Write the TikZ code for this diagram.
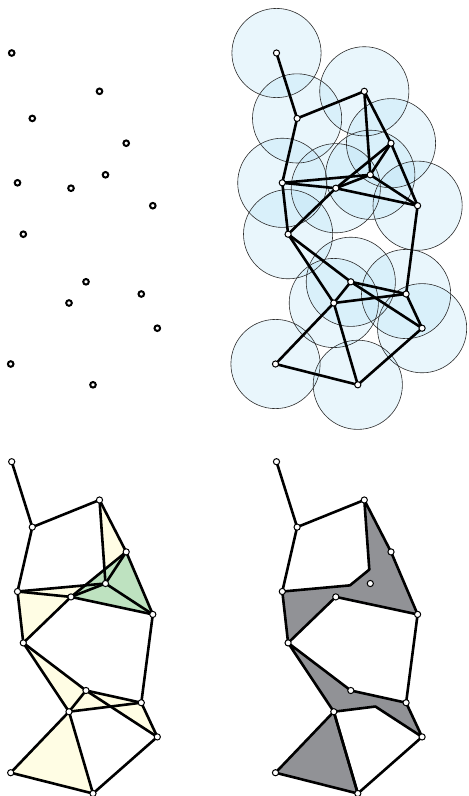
\documentclass[tikz,border=0pt]{standalone}
\definecolor{circfill}{RGB}{182,225,245}
\definecolor{circline}{RGB}{45,45,45}
\definecolor{triyellow}{RGB}{255,253,228}
\definecolor{tetgreen}{RGB}{190,226,192}
\definecolor{uniongray}{RGB}{145,146,150}
\tikzset{
  edge/.style={line width=2.6pt, black, line cap=round, line join=round},
  ptring/.style={circle, draw=black, line width=2pt, fill=white, inner sep=0pt, minimum size=5.6pt},
  ptdot/.style={circle, draw=black, line width=1pt, fill=white, inner sep=0pt, minimum size=6.2pt},
  ball/.style={fill=circfill, fill opacity=0.3},
  ballrim/.style={draw=circline, line width=0.6pt},
  yel/.style={fill=triyellow},
  grn/.style={fill=tetgreen},
  gry/.style={fill=uniongray, draw=black, line width=2.6pt, line join=round},
}
\newcommand\mkpts[1]{%
  \foreach \n/\px/\py in {A/11.7/53, B/99.5/91.3, C/32.3/118.4, D/126.2/143.2,
      E/17.5/182.8, F/71/188.2, G/105.5/174.8, H/152.8/205.7, I/23.3/234.2,
      J/86/281.8, K/69/303, L/141.3/294, M/157.3/328.2, N/10.7/364, O/93/384.8}
    {\coordinate (#1\n) at (\px,\py);}%
}
\newcommand\alledges[1]{%
  \foreach \a/\b in {A/C, C/B, C/E, B/G, B/D, D/G, D/F, D/H, E/G, E/F, F/G, F/H,
      G/H, E/I, I/F, H/L, I/J, I/K, J/K, J/L, J/M, K/L, L/M, K/N, K/O, N/O, O/M}
    {\draw[edge] (#1\a) -- (#1\b);}%
}
\newcommand\alldots[1]{%
  \foreach \n in {A,B,C,D,E,F,G,H,I,J,K,L,M,N,O}
    {\node[ptdot] (dot#1\n) at (#1\n) {};}%
}
\begin{document}
\begin{tikzpicture}[x=1pt,y=-1pt]
\useasboundingbox (0,0) rectangle (469,796);

% ---------- panel 1: points ----------
\begin{scope}
  \mkpts{tl}
  \foreach \n in {A,B,C,D,E,F,G,H,I,J,K,L,M,N,O}
    {\node[ptring] (dottl\n) at (tl\n) {};}
\end{scope}

% ---------- panel 2: balls and 1-skeleton ----------
\begin{scope}[shift={(264.8,0)}]
  \mkpts{tr}
  \foreach \n in {A,B,C,D,E,F,G,H,I,J,K,L,M,N,O}
    {\fill[ball] (tr\n) circle[radius=44.6pt];}
  \foreach \n in {A,B,C,D,E,F,G,H,I,J,K,L,M,N,O}
    {\draw[ballrim] (tr\n) circle[radius=44.6pt];}
  \alledges{tr}
  \alldots{tr}
\end{scope}

% ---------- panel 3: complex ----------
\begin{scope}[shift={(0,408.7)}]
  \mkpts{bl}
  \foreach \a/\b/\c in {B/G/D, E/G/F, E/F/I, I/J/K, J/K/L, J/L/M, K/N/O}
    {\fill[yel] (bl\a) -- (bl\b) -- (bl\c) -- cycle;}
  \fill[grn] (blF) -- (blD) -- (blH) -- cycle;
  \alledges{bl}
  \alldots{bl}
\end{scope}

% ---------- panel 4: union ----------
\begin{scope}[shift={(264.8,408.7)}]
  \mkpts{br}
  \coordinate (brP) at (intersection of brE--brG and brF--brD);
  \coordinate (brR) at (intersection of brB--brG and brF--brD);
  \coordinate (brQ) at (intersection of brJ--brM and brK--brL);
  \filldraw[gry] (brB) -- (brD) -- (brH) -- (brF) -- (brI) -- (brE) -- (brP) -- (brR) -- cycle;
  \filldraw[gry] (brI) -- (brJ) -- (brL) -- (brM) -- (brQ) -- (brK) -- cycle;
  \filldraw[gry] (brK) -- (brN) -- (brO) -- cycle;
  \foreach \a/\b in {A/C, C/B, C/E, H/L, K/O, O/M}
    {\draw[edge] (br\a) -- (br\b);}
  \alldots{br}
\end{scope}
\end{tikzpicture}
\end{document}
